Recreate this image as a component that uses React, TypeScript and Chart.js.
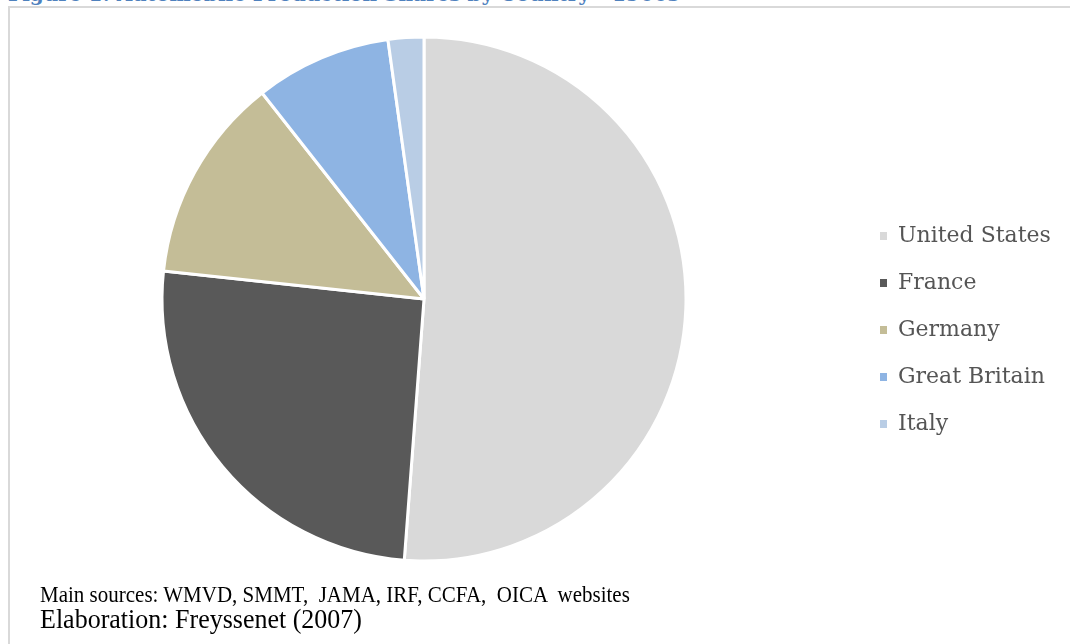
import React, { useEffect, useRef } from "react";
import { Chart, registerables } from "chart.js";

Chart.register(...registerables);

const titleText = "Figure 1: Automobile Production Shares by Country - 1900s";
const categories = ["United States", "France", "Germany", "Great Britain", "Italy"];
const shares = [51.2, 25.5, 12.7, 8.4, 2.2];
const colors = ["#d9d9d9", "#595959", "#c4bd97", "#8eb4e3", "#b9cde5"];
const sourceNote = "Main sources: WMVD, SMMT,  JAMA, IRF, CCFA,  OICA  websites";
const elaborationNote = "Elaboration: Freyssenet (2007)";

export default function App() {
  const canvasRef = useRef<HTMLCanvasElement | null>(null);

  useEffect(() => {
    const canvas = canvasRef.current;
    if (!canvas) return;
    const chart = new Chart(canvas, {
      type: "pie",
      data: {
        labels: categories,
        datasets: [
          {
            data: shares,
            backgroundColor: colors,
            borderColor: "#ffffff",
            borderWidth: 3,
          },
        ],
      },
      options: {
        animation: false,
        responsive: false,
        maintainAspectRatio: false,
        layout: { padding: { top: 35.5, bottom: 81.5, left: 0, right: 22 } },
        plugins: {
          tooltip: { enabled: false },
          legend: {
            display: true,
            position: "right",
            maxWidth: 200,
            title: {
              display: true,
              text: "",
              font: { size: 10 },
              padding: { top: 25, bottom: 25 },
            },
            labels: {
              usePointStyle: true,
              pointStyle: "rect",
              pointStyleWidth: 7,
              boxHeight: 8,
              padding: 25,
              color: "#555555",
              font: { family: "'DejaVu Serif', serif", size: 22 },
              generateLabels: () =>
                categories.map((c, i) => ({
                  text: c,
                  fillStyle: colors[i],
                  strokeStyle: colors[i],
                  lineWidth: 0,
                  pointStyle: "rect",
                  hidden: false,
                  index: i,
                  fontColor: "#555555",
                })),
            },
          },
        },
      },
    });
    return () => chart.destroy();
  }, []);

  return (
    <div
      style={{
        position: "fixed",
        left: 0,
        top: 0,
        width: 1070,
        height: 644,
        overflow: "hidden",
        background: "#ffffff",
      }}
    >
      <div
        style={{
          position: "absolute",
          left: 8,
          top: -16,
          fontFamily: "'DejaVu Serif', serif",
          fontWeight: "bold",
          fontSize: 20,
          lineHeight: "20px",
          color: "#4F81BD",
          whiteSpace: "nowrap",
        }}
      >
        {titleText}
      </div>
      <div
        style={{
          position: "absolute",
          left: 8,
          top: 6,
          width: 1200,
          height: 800,
          borderLeft: "2px solid #d9d9d9",
          borderTop: "2px solid #d9d9d9",
        }}
      />
      <canvas
        ref={canvasRef}
        width={1084}
        height={644}
        style={{ position: "absolute", left: -7, top: 0, width: 1084, height: 644 }}
      />
      <div
        style={{
          position: "absolute",
          left: 40,
          top: 585,
          fontFamily: "'Liberation Serif', serif",
          fontSize: 21,
          lineHeight: "21px",
          color: "#000000",
          whiteSpace: "pre",
          transform: "scaleY(1.1)",
          transformOrigin: "left bottom",
        }}
      >
        {sourceNote}
      </div>
      <div
        style={{
          position: "absolute",
          left: 40,
          top: 607,
          fontFamily: "'Liberation Serif', serif",
          fontSize: 26,
          lineHeight: "26px",
          color: "#000000",
          whiteSpace: "pre",
          transform: "scaleY(1.05)",
          transformOrigin: "left bottom",
        }}
      >
        {elaborationNote}
      </div>
    </div>
  );
}
